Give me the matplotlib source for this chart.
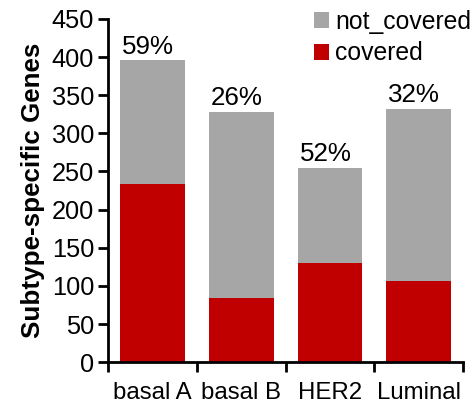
import matplotlib
matplotlib.use("Agg")
import matplotlib.pyplot as plt
import numpy as np

plt.rcParams['font.family'] = ['Liberation Sans', 'DejaVu Sans']

categories = ['basal A', 'basal B', 'HER2', 'Luminal']
covered = [233, 84, 130, 106]
not_covered = [163, 244, 125, 226]
pct_labels = ['59%', '26%', '52%', '32%']

RED = '#C00000'
GRAY = '#A6A6A6'

fig = plt.figure(figsize=(4.74, 4.12), dpi=100)
ax = fig.add_axes([0.228, 0.121, 0.749, 0.833])

x = np.arange(len(categories))
w = 0.73
ax.bar(x, covered, w, color=RED, label='covered')
ax.bar(x, not_covered, w, bottom=covered, color=GRAY, label='not_covered')

totals = np.array(covered) + np.array(not_covered)
for xi, t, lab in zip(x, totals, pct_labels):
    ax.text(xi - 0.05, t + 2, lab, ha='center', va='bottom', fontsize=18.7)

ax.set_xlim(-0.5, 3.5)
ax.set_ylim(0, 450)
ax.set_yticks(range(0, 451, 50))
ax.set_xticks(x)
ax.set_xticklabels(categories)
ax.set_xticks(np.arange(-0.5, 4, 1), minor=True)
ax.tick_params(axis='x', which='major', length=0, pad=14, labelsize=17.3)
ax.tick_params(axis='x', which='minor', length=7, width=2, direction='out')
ax.tick_params(axis='y', length=7, width=2, direction='out', labelsize=18.3, pad=3)
ax.set_ylabel('Subtype-specific Genes', fontsize=18.7, fontweight='bold', labelpad=5)

for s in ['top', 'right']:
    ax.spines[s].set_visible(False)
for s in ['left', 'bottom']:
    ax.spines[s].set_linewidth(2)

h, l = ax.get_legend_handles_labels()
ax.legend(h[::-1], l[::-1], loc='upper right', bbox_to_anchor=(1.05, 1.055),
          frameon=False, fontsize=17.8, handlelength=0.6, handleheight=0.6,
          handletextpad=0.25, labelspacing=0.3, borderaxespad=0)

fig.savefig('out.png', dpi=100)
